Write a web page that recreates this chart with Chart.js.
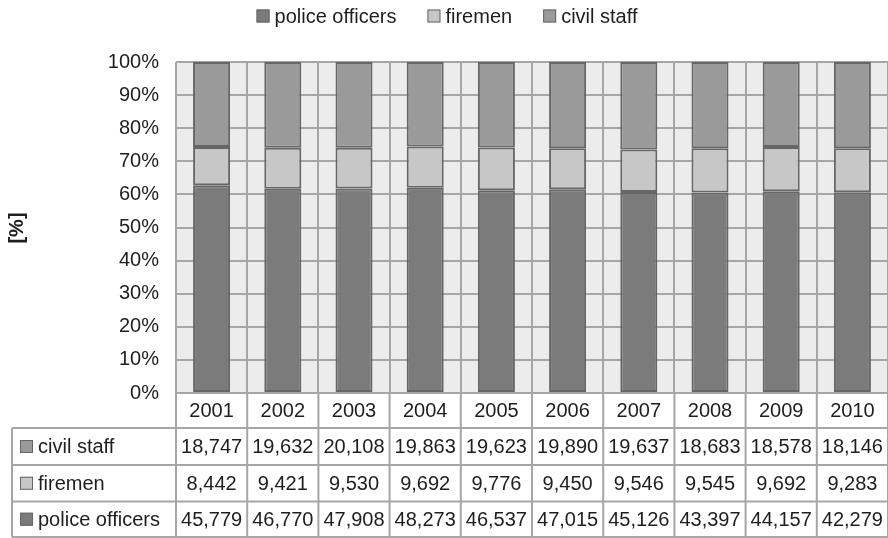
<!DOCTYPE html>
<html>
<head>
<meta charset="utf-8">
<script src="https://cdn.jsdelivr.net/npm/chart.js@4/dist/chart.umd.min.js"></script>
<style>
  html, body { margin: 0; padding: 0; background: #ffffff; }
  #wrap { width: 888px; height: 538px; }
</style>
</head>
<body>
<div id="wrap"><canvas id="c" width="888" height="538"></canvas></div>
<script>
// Staff headcount per year
const years = ['2001', '2002', '2003', '2004', '2005', '2006', '2007', '2008', '2009', '2010'];
const policeOfficers = [45779, 46770, 47908, 48273, 46537, 47015, 45126, 43397, 44157, 42279];
const firemen = [8442, 9421, 9530, 9692, 9776, 9450, 9546, 9545, 9692, 9283];
const civilStaff = [18747, 19632, 20108, 19863, 19623, 19890, 19637, 18683, 18578, 18146];
const yTicks = [0, 10, 20, 30, 40, 50, 60, 70, 80, 90, 100];

const FONT = '"Liberation Sans", Arial, Helvetica, sans-serif';
const TEXT = '#1e1e1e';
const GRID = '#a6a6a6';
const EDGE = '#666666';

const series = [
  { label: 'police officers', values: policeOfficers, color: '#7b7b7b' },
  { label: 'firemen', values: firemen, color: '#c6c7c6' },
  { label: 'civil staff', values: civilStaff, color: '#999a99' }
];

// yearly totals, used to turn counts into shares
const totals = years.map((_, i) => series.reduce((s, d) => s + d.values[i], 0));
const share = vals => vals.map((v, i) => v / totals[i] * 100);

const fmt = n => n.toLocaleString('en-US');

function swatch(ctx, color, x, cy, size) {
  ctx.fillStyle = color;
  ctx.fillRect(x, cy - size / 2, size, size);
  ctx.strokeStyle = EDGE;
  ctx.lineWidth = 1;
  ctx.strokeRect(x + 0.5, cy - size / 2 + 0.5, size - 1, size - 1);
}

const chartDecor = {
  id: 'chartDecor',
  beforeDraw(chart) {
    const { ctx, chartArea: a } = chart;
    ctx.save();
    ctx.fillStyle = '#ffffff';
    ctx.fillRect(0, 0, chart.width, chart.height);
    ctx.fillStyle = '#ececec';
    ctx.fillRect(a.left, a.top, a.right - a.left, a.bottom - a.top);
    ctx.restore();
  },
  afterDraw(chart) {
    const { ctx, chartArea: a } = chart;
    const x = chart.scales.x;
    const half = x.width / years.length / 2;
    ctx.save();

    // legend across the top
    ctx.font = '20px ' + FONT;
    ctx.textBaseline = 'middle';
    ctx.textAlign = 'left';
    const box = 13, gapText = 5, gapItem = 31, legendY = 16;
    const widths = series.map(s => box + gapText + ctx.measureText(s.label).width);
    const totalW = widths.reduce((s, w) => s + w, 0) + gapItem * (series.length - 1);
    let lx = (chart.width - totalW) / 2 + 3;
    series.forEach((s, i) => {
      swatch(ctx, s.color, lx, legendY, box);
      ctx.fillStyle = TEXT;
      ctx.fillText(s.label, lx + box + gapText, legendY + 1);
      lx += widths[i] + gapItem;
    });

    // axis title
    ctx.save();
    ctx.translate(17, 228);
    ctx.rotate(-Math.PI / 2);
    ctx.font = 'bold 20px ' + FONT;
    ctx.textAlign = 'center';
    ctx.fillStyle = TEXT;
    ctx.fillText('[%]', 0, 0);
    ctx.restore();

    // data table under the plot
    const rowsY = [a.bottom, 428, 465, 501.5, 537];
    const labelLeft = 12;
    const rowSeries = [series[2], series[1], series[0]];

    ctx.fillStyle = '#ffffff';
    ctx.fillRect(a.left, rowsY[0], chart.width - a.left, rowsY[1] - rowsY[0]);
    ctx.fillRect(labelLeft, rowsY[1], chart.width - labelLeft, rowsY[4] - rowsY[1]);

    ctx.strokeStyle = GRID;
    ctx.lineWidth = 2;
    ctx.beginPath();
    // horizontal rules
    ctx.moveTo(a.left, rowsY[0]); ctx.lineTo(chart.width, rowsY[0]);
    for (let r = 1; r < rowsY.length; r++) {
      ctx.moveTo(labelLeft, rowsY[r]); ctx.lineTo(chart.width, rowsY[r]);
    }
    // vertical rules at category edges
    years.forEach((_, i) => {
      const cx = x.getPixelForValue(i);
      ctx.moveTo(cx - half, rowsY[0]); ctx.lineTo(cx - half, rowsY[4]);
      ctx.moveTo(cx + half, rowsY[0]); ctx.lineTo(cx + half, rowsY[4]);
    });
    ctx.moveTo(labelLeft, rowsY[1]); ctx.lineTo(labelLeft, rowsY[4]);
    ctx.stroke();

    ctx.font = '20px ' + FONT;
    ctx.fillStyle = TEXT;
    ctx.textAlign = 'center';
    years.forEach((yr, i) => {
      ctx.fillText(yr, x.getPixelForValue(i), (rowsY[0] + rowsY[1]) / 2 + 1);
    });
    rowSeries.forEach((s, r) => {
      const cy = (rowsY[r + 1] + rowsY[r + 2]) / 2 + 1;
      s.values.forEach((v, i) => {
        ctx.fillText(fmt(v), x.getPixelForValue(i), cy);
      });
    });
    ctx.textAlign = 'left';
    rowSeries.forEach((s, r) => {
      const cy = (rowsY[r + 1] + rowsY[r + 2]) / 2;
      swatch(ctx, s.color, 20, cy, box);
      ctx.fillStyle = TEXT;
      ctx.fillText(s.label, 38, cy + 1);
    });

    ctx.restore();
  }
};

new Chart(document.getElementById('c'), {
  type: 'bar',
  data: {
    labels: years,
    datasets: series.map(s => ({
      label: s.label,
      data: share(s.values),
      backgroundColor: s.color,
      borderColor: EDGE,
      borderWidth: 2,
      borderSkipped: false,
      barPercentage: 0.52,
      categoryPercentage: 1
    }))
  },
  options: {
    responsive: false,
    animation: false,
    layout: { padding: { left: 0, right: 0, top: 62, bottom: 145 } },
    plugins: {
      legend: { display: false },
      tooltip: { enabled: false }
    },
    scales: {
      x: {
        stacked: true,
        offset: true,
        grid: { offset: true, color: GRID, lineWidth: 2, drawTicks: false },
        border: { display: false },
        ticks: { display: false }
      },
      y: {
        stacked: true,
        min: 0,
        max: 100,
        afterFit(scale) { scale.width = 176; },
        afterBuildTicks(scale) { scale.ticks = yTicks.map(v => ({ value: v })); },
        grid: { color: GRID, lineWidth: 2, drawTicks: false },
        border: { display: false },
        ticks: {
          padding: 17,
          color: TEXT,
          font: { family: FONT, size: 20 },
          callback: v => v + '%'
        }
      }
    }
  },
  plugins: [chartDecor]
});
</script>
</body>
</html>
